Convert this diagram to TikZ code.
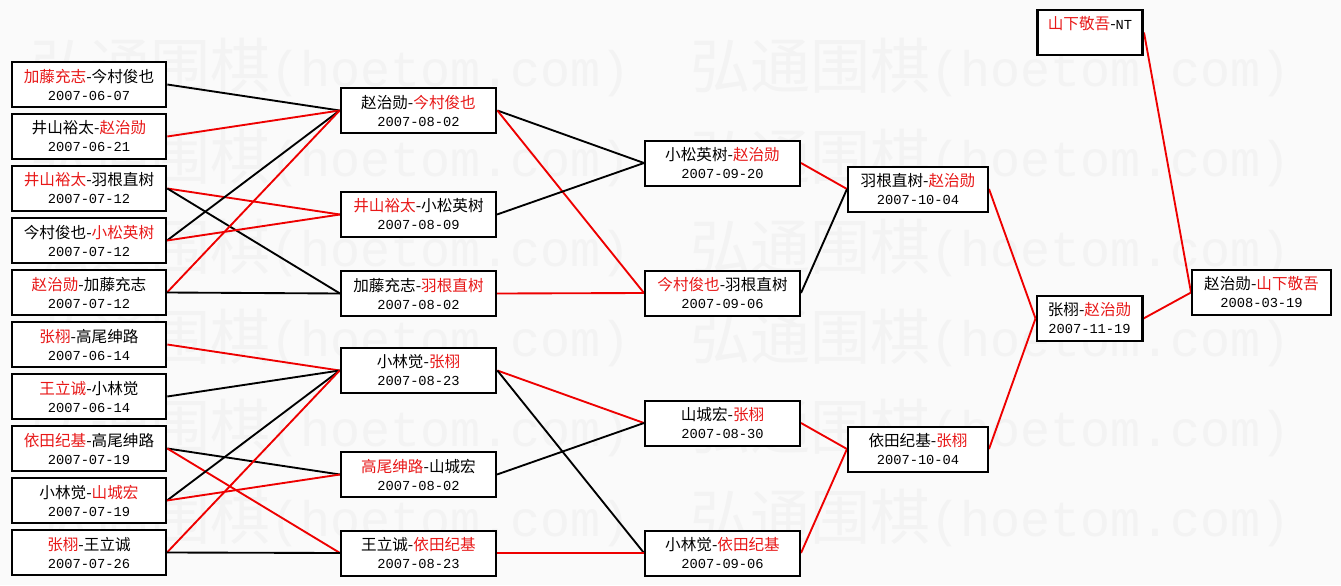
\documentclass[tikz,border=0pt]{standalone}
\usepackage{fontspec}
\usetikzlibrary{backgrounds}
\setmainfont{Noto Sans CJK SC}
\newfontfamily\cjk{Noto Sans CJK SC}
\newfontfamily\monof{Liberation Mono}
\definecolor{wred}{RGB}{232,24,24}
\definecolor{lred}{RGB}{238,0,0}
\definecolor{bgc}{RGB}{250,250,250}
\definecolor{wmc}{RGB}{243,243,243}
\newcommand\R[1]{\textcolor{wred}{#1}}
\newcommand\dt[1]{{\monof\fontsize{10.3pt}{13.5pt}\selectfont #1}}
\newcommand\wmrow[1]{%
  \foreach \xx in {30,690,1350}{%
    \node[wm,anchor=base west] at (\xx,#1+23) {弘通围棋};
    \node[wmm,anchor=base west] at (\xx+240,#1+20) {(hoetom.com)};
  }}
\tikzset{
  gbox/.style={draw=black, fill=white, line width=1.5pt, inner sep=0pt, align=center,
    minimum height=33.75pt, font=\fontsize{11.7pt}{13.5pt}\selectfont\cjk},
  thk/.style={line width=2pt},
  wa/.style={minimum width=115.5pt},
  wb/.style={minimum width=116.25pt},
  wc/.style={minimum width=105pt},
  wd/.style={minimum width=79pt},
  we/.style={minimum width=104.25pt},
  bl/.style={draw=black, line width=1.4pt},
  rl/.style={draw=lred, line width=1.4pt},
  wm/.style={inner sep=0pt, text=wmc, font=\cjk\fontsize{45pt}{45pt}\selectfont},
  wmm/.style={inner sep=0pt, text=wmc, font=\monof\fontsize{37.5pt}{37.5pt}\selectfont},
}
\begin{document}
\begin{tikzpicture}[x=0.75pt,y=-0.75pt]
\useasboundingbox (0,0) rectangle (1341,585);
\begin{pgfonlayer}{background}
\fill[bgc] (0,0) rectangle (1341,585);
\begin{scope}
\clip (0,0) rectangle (1341,585);
\foreach \yy in {66,156,246,336,426,516}{\wmrow{\yy}}
\end{scope}
\end{pgfonlayer}

% column 1
\node[gbox,wa,thk] (n1) at (89,84.5) {\R{加藤充志}-今村俊也\\\dt{2007-06-07}};
\node[gbox,wa,thk] (n2) at (89,136.5) {井山裕太-\R{赵治勋}\\\dt{2007-06-21}};
\node[gbox,wa,thk] (n3) at (89,188.5) {\R{井山裕太}-羽根直树\\\dt{2007-07-12}};
\node[gbox,wa] (n4) at (89,240.5) {今村俊也-\R{小松英树}\\\dt{2007-07-12}};
\node[gbox,wa] (n5) at (89,292.5) {\R{赵治勋}-加藤充志\\\dt{2007-07-12}};
\node[gbox,wa,thk] (n6) at (89,344.5) {\R{张栩}-高尾绅路\\\dt{2007-06-14}};
\node[gbox,wa,thk] (n7) at (89,396.5) {\R{王立诚}-小林觉\\\dt{2007-06-14}};
\node[gbox,wa,thk] (n8) at (89,448.5) {\R{依田纪基}-高尾绅路\\\dt{2007-07-19}};
\node[gbox,wa] (n9) at (89,500.5) {小林觉-\R{山城宏}\\\dt{2007-07-19}};
\node[gbox,wa] (n10) at (89,552.5) {\R{张栩}-王立诚\\\dt{2007-07-26}};
% column 2
\node[gbox,wb,thk] (a) at (418.5,110.5) {赵治勋-\R{今村俊也}\\\dt{2007-08-02}};
\node[gbox,wb] (b) at (418.5,214.5) {\R{井山裕太}-小松英树\\\dt{2007-08-09}};
\node[gbox,wb] (c) at (418.5,293.5) {加藤充志-\R{羽根直树}\\\dt{2007-08-02}};
\node[gbox,wb,thk] (d) at (418.5,370.5) {小林觉-\R{张栩}\\\dt{2007-08-23}};
\node[gbox,wb] (e) at (418.5,474.5) {\R{高尾绅路}-山城宏\\\dt{2007-08-02}};
\node[gbox,wb] (f) at (418.5,553) {王立诚-\R{依田纪基}\\\dt{2007-08-23}};
% column 3
\node[gbox,wb] (g) at (722.5,163) {小松英树-\R{赵治勋}\\\dt{2007-09-20}};
\node[gbox,wb] (h) at (722.5,293) {\R{今村俊也}-羽根直树\\\dt{2007-09-06}};
\node[gbox,wb] (i) at (722.5,423) {山城宏-\R{张栩}\\\dt{2007-08-30}};
\node[gbox,wb] (j) at (722.5,553) {小林觉-\R{依田纪基}\\\dt{2007-09-06}};
% column 4
\node[gbox,wc] (k) at (918,189) {羽根直树-\R{赵治勋}\\\dt{2007-10-04}};
\node[gbox,wc] (l) at (918,449) {依田纪基-\R{张栩}\\\dt{2007-10-04}};
% finals
\node[gbox,wd,thk] (m) at (1089.5,318.5) {张栩-\R{赵治勋}\\\dt{2007-11-19}};
\node[gbox,wd,thk] (nt) at (1090,32.5) {\R{山下敬吾}-\dt{NT}\\\dt{\phantom{2007}}};
\node[gbox,we] (o) at (1261.5,292.5) {赵治勋-\R{山下敬吾}\\\dt{2008-03-19}};

\begin{pgfonlayer}{background}
\draw[bl] (n1.east) -- (a.west);
\draw[rl] (n2.east) -- (a.west);
\draw[rl] (n3.east) -- (b.west);
\draw[bl] (n3.east) -- (c.west);
\draw[bl] (n4.east) -- (a.west);
\draw[rl] (n4.east) -- (b.west);
\draw[rl] (n5.east) -- (a.west);
\draw[bl] (n5.east) -- (c.west);
\draw[rl] (n6.east) -- (d.west);
\draw[bl] (n7.east) -- (d.west);
\draw[bl] (n8.east) -- (e.west);
\draw[rl] (n8.east) -- (f.west);
\draw[bl] (n9.east) -- (d.west);
\draw[rl] (n9.east) -- (e.west);
\draw[rl] (n10.east) -- (d.west);
\draw[bl] (n10.east) -- (f.west);
\draw[bl] (a.east) -- (g.west);
\draw[rl] (a.east) -- (h.west);
\draw[bl] (b.east) -- (g.west);
\draw[rl] (c.east) -- (h.west);
\draw[rl] (d.east) -- (i.west);
\draw[bl] (d.east) -- (j.west);
\draw[bl] (e.east) -- (i.west);
\draw[rl] (f.east) -- (j.west);
\draw[rl] (g.east) -- (k.west);
\draw[bl] (h.east) -- (k.west);
\draw[rl] (i.east) -- (l.west);
\draw[rl] (j.east) -- (l.west);
\draw[rl] (k.east) -- (m.west);
\draw[rl] (l.east) -- (m.west);
\draw[rl] (m.east) -- (o.west);
\draw[rl] (nt.east) -- (o.west);
\end{pgfonlayer}
\end{tikzpicture}
\end{document}
